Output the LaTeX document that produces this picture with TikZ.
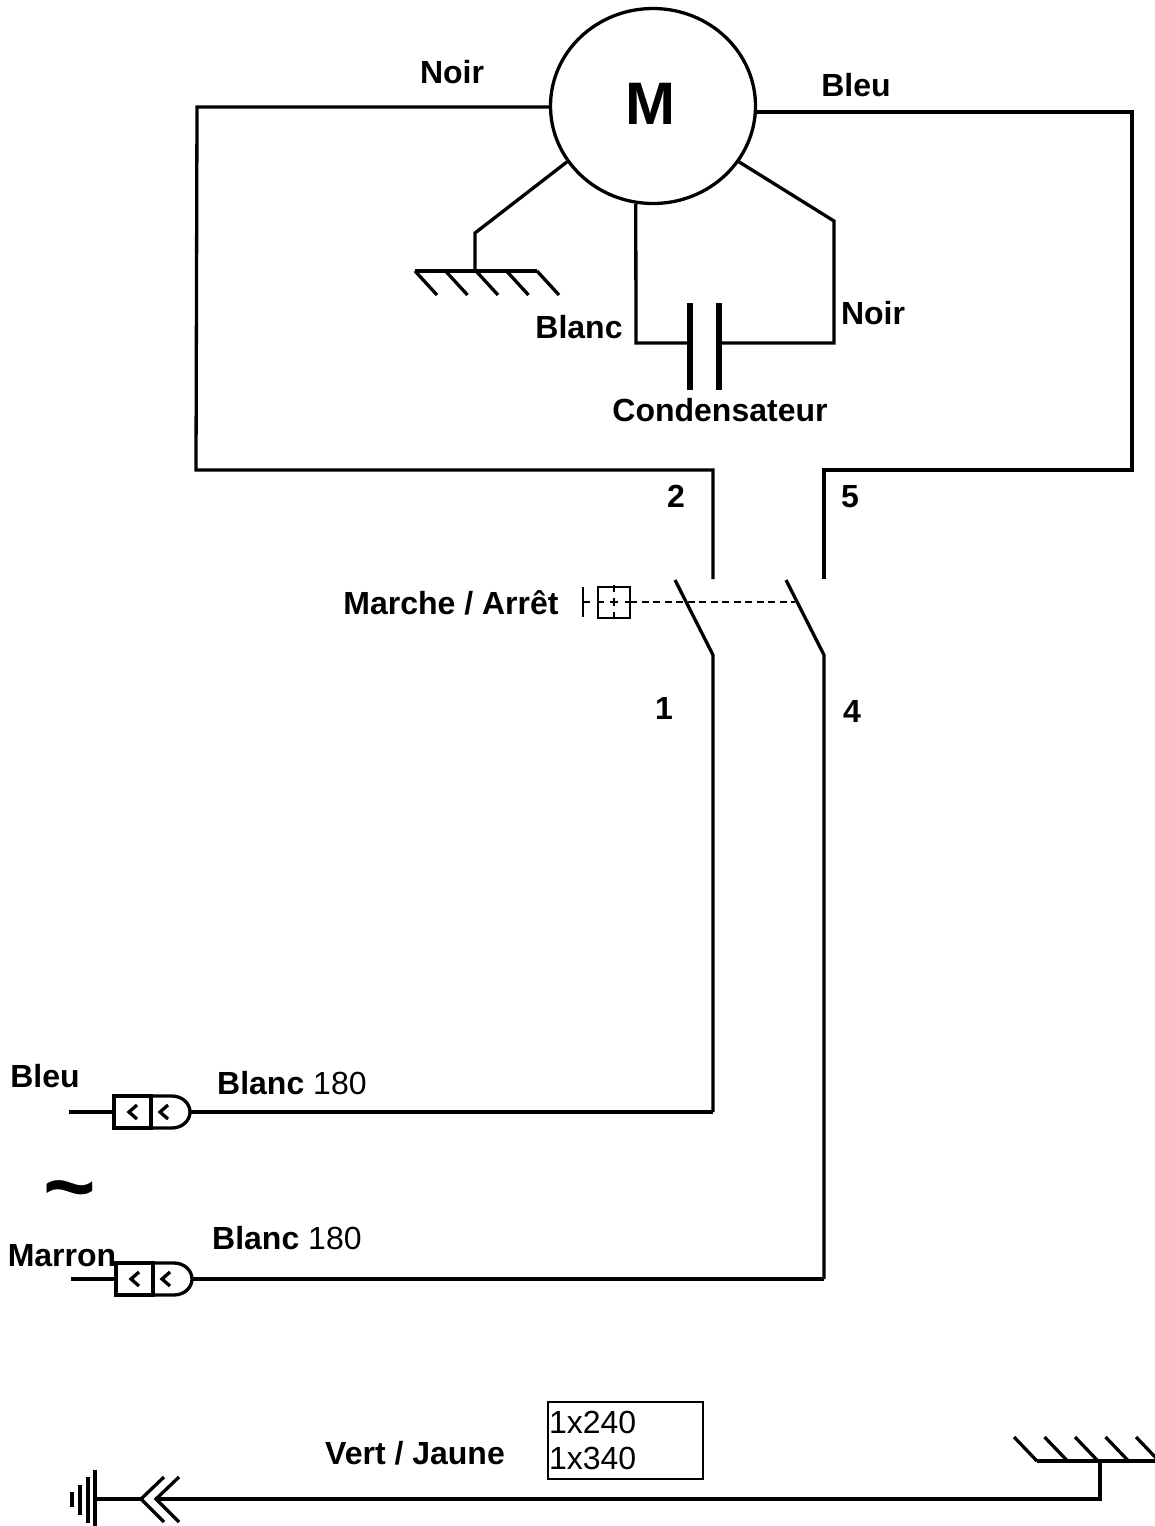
\documentclass[tikz,border=0pt]{standalone}
\usepackage{fontspec}
\setmainfont{Liberation Sans}
\usetikzlibrary{arrows,positioning,shapes.geometric}
\tikzset{
    %Define style for labels
    lbl/.style={
           inner sep=0pt,
           font=\bfseries\fontsize{32}{35}\selectfont},
    % Define wire style
    fil/.style={
           line width=3.3pt,
           line cap=butt,
           line join=miter},
    % Define thin line style
    fin/.style={
           line width=1.7pt},
    % Plug with its two contacts
    fiche/.pic={
           \coordinate (-in) at (0,0);
           \coordinate (-out) at (76,0);
           \draw [fil] (0,-16) -- (0,16) -- (37,16) -- (37,-16) -- cycle;
           \draw [fil] (37,-16) -- (58,-16) arc [start angle=90,end angle=-90,x radius=18pt,y radius=16pt] -- (37,16);
           \draw [fil] (23,-7) -- (15,0) -- (23,7);
           \draw [fil] (54,-7) -- (46,0) -- (54,7);
    }
}
\begin{document}
\begin{tikzpicture}[x=1pt,y=-1pt]
    \useasboundingbox (0,0) rectangle (1155,1526);
    % motor
    \node (motor) [draw,ellipse,line width=3.3pt,minimum width=205pt,minimum height=195pt,inner sep=0pt] at (653,106) {};
    \node (m) [inner sep=0pt,font=\bfseries\fontsize{60}{64}\selectfont] at (650,103.5) {M};
    % corner points of the wires
    \coordinate (hautg) at (197,107);
    \coordinate (basg) at (196,470);
    \coordinate (borne2) at (713,470);
    \coordinate (fin2) at (713,579);
    \coordinate (hautd) at (1132,112);
    \coordinate (basd) at (1132,470);
    \coordinate (borne5) at (824,470);
    \coordinate (fin5) at (824,579);
    \draw [fil] (motor.west |- hautg) -- (hautg) -- (basg) -- (borne2) -- (fin2);
    \draw [fil] (motor.east |- hautd) -- (hautd) -- (basd) -- (borne5) -- (fin5);
    % ground of the motor
    \coordinate (coude) at (475,233);
    \coordinate (masse) at (475,271);
    \draw [fil] (motor.213) -- (coude) -- (masse);
    \draw [fil] (415,271) -- (537,271);
    \foreach \x in {415,445.5,476,506.5,537}
      \draw [fil] (\x,271) -- ++(22,24);
    % capacitor
    \coordinate (capg) at (690,343);
    \coordinate (capd) at (719,343);
    \coordinate (coudeb) at (636,343);
    \coordinate (couden) at (834,343);
    \coordinate (couden2) at (834,221);
    \draw [line width=6pt] (690,303) -- (690,390);
    \draw [line width=6pt] (719,303) -- (719,390);
    \draw [fil] (motor.-100) -- (coudeb) -- (capg);
    \draw [fil] (capd) -- (couden) -- (couden2) -- (motor.-33.4);
    % switch
    \coordinate (cont1) at (713,655);
    \coordinate (cont4) at (824,655);
    \coordinate (bas1) at (713,1112);
    \coordinate (bas4) at (824,1279);
    \draw [fil] (675,580) -- (cont1) -- (bas1);
    \draw [fil] (786,580) -- (cont4) -- (bas4);
    \draw [fin,dash pattern=on 7pt off 4.5pt] (630,602) -- (795,602);
    % push button
    \draw [fin] (583,587) -- (583,617) (583,602) -- (590,602);
    \node (bouton) [draw,fin,minimum width=32pt,minimum height=31pt,inner sep=0pt] at (614,602.5) {};
    \draw [fin] (614,585) -- (614,592) (614,598) -- (614,606) (614,612) -- (614,619)
                (597,602) -- (604,602) (610,602) -- (618,602) (625,602) -- (630,602);
    % plugs
    \pic (f1) at (114,1112) {fiche};
    \pic (f2) at (116,1279) {fiche};
    \coordinate (ent1) at (69,1112);
    \coordinate (ent2) at (71,1279);
    \draw [fil] (ent1) -- (f1-in);
    \draw [fil] (ent2) -- (f2-in);
    \draw [fil] (f1-out) -- (bas1);
    \draw [fil] (f2-out) -- (bas4);
    % earth cable
    \coordinate (terre) at (95,1499);
    \coordinate (coin) at (1100,1499);
    \coordinate (masse2) at (1100,1461);
    \draw [fil] (terre) -- (141,1499);
    \draw [fil] (156,1499) -- (coin) -- (masse2);
    \draw [line width=4pt] (95,1470) -- (95,1526);
    \draw [line width=4pt] (88,1477) -- (88,1523);
    \draw [line width=4pt] (80,1485) -- (80,1515);
    \draw [line width=4pt] (72,1492) -- (72,1507);
    \draw [fil] (164,1477) -- (141,1499) -- (164,1522);
    \draw [fil] (179,1477) -- (156,1499) -- (179,1522);
    \draw [fil] (1037,1461) -- (1155,1461);
    \foreach \x in {1037,1067.5,1098,1128.5,1159}
      \draw [fil] (\x,1461) -- ++(-23,-24);
    % labels
    \node (noirg) [lbl] at (452,72) {Noir};
    \node (bleuh) [lbl] at (856,85) {Bleu};
    \node (blanc) [lbl] at (579,327) {Blanc};
    \node (noird) [lbl] at (873,313) {Noir};
    \node (cond) [lbl] at (720,410) {Condensateur};
    \node (n2) [lbl] at (676,496) {2};
    \node (n5) [lbl] at (850,496.5) {5};
    \node (marche) [lbl] at (451,603) {Marche / Arrêt};
    \node (n1) [lbl] at (664,708) {1};
    \node (n4) [lbl] at (852,711) {4};
    \node (bleub) [lbl] at (45,1076) {Bleu};
    \node (blanc1) [lbl,anchor=west] at (217,1083) {Blanc \mdseries 180};
    \node (tilde) [inner sep=0pt,font=\bfseries\fontsize{90}{90}\selectfont] at (70,1199) {\textasciitilde};
    \node (marron) [lbl] at (62,1256) {Marron};
    \node (blanc2) [lbl,anchor=west] at (212,1238) {Blanc \mdseries 180};
    \node (vert) [lbl] at (415,1453) {Vert / Jaune};
    \node (cable) [draw,fin,minimum width=155pt,minimum height=77pt,inner sep=0pt,text width=153pt,align=left,
          font=\fontsize{32}{36}\selectfont] at (625.5,1440.5) {1x240\\1x340};
  \end{tikzpicture}
\end{document}
